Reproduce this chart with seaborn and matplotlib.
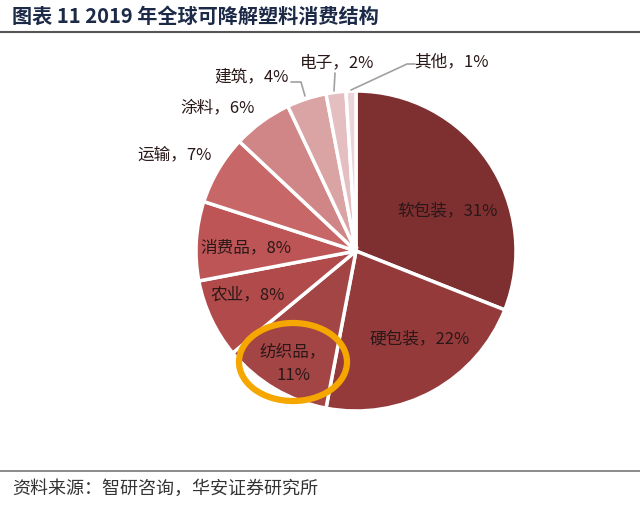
import matplotlib
matplotlib.use("Agg")
import matplotlib.pyplot as plt
import seaborn as sns
from matplotlib.patches import Ellipse
from matplotlib.lines import Line2D

sns.set_theme(style="white")
plt.rcParams['font.family'] = ['Noto Sans CJK SC', 'DejaVu Sans']

categories = ["软包装", "硬包装", "纺织品", "农业", "消费品", "运输", "涂料", "建筑", "电子", "其他"]
values = [31, 22, 11, 8, 8, 7, 6, 4, 2, 1]
colors = ["#7E2F30", "#943A3B", "#A34445", "#B14A4B", "#BD5556", "#C76767",
          "#D08687", "#DAA3A4", "#E4BEC0", "#ECD5D8"]
title = "图表 11 2019 年全球可降解塑料消费结构"
source = "资料来源：智研咨询，华安证券研究所"

W, H = 640, 505
fig = plt.figure(figsize=(W / 100, H / 100), dpi=100)
cx, cy, R = 356, 251, 160
ax = fig.add_axes([(cx - R) / W, (H - cy - R) / H, 2 * R / W, 2 * R / H])
wedges, _ = ax.pie(values, colors=colors, startangle=90, counterclock=False,
                   wedgeprops=dict(edgecolor="white", linewidth=2.5))
ax.set_xlim(-1, 1)
ax.set_ylim(-1, 1)
ax.axis("off")

labels = [f"{c}，{v}%" for c, v in zip(categories, values)]
labels[2] = f"{categories[2]}，\n{values[2]}%"

def d(px, py):
    return ((px - cx) / R, (cy - py) / R)

pos = [(448, 212), (420, 340), (293, 364), (248, 295), (246, 248),
       (175, 155), (218, 108), (252, 77), (337, 63), (452, 62)]
txtc = "#2A1717"
for lab, p in zip(labels, pos):
    x, y = d(*p)
    ax.text(x, y, lab, ha="center", va="center", fontsize=12, color=txtc,
            linespacing=1.5, clip_on=False)

# leader lines
lc = "#A0A0A0"
for pts in [[(291, 82), (301, 82), (305, 96)],
            [(335, 73), (334, 91)],
            [(415, 64), (407, 64), (351, 90)]]:
    xs, ys = zip(*[d(*p) for p in pts])
    ax.add_line(Line2D(xs, ys, color=lc, lw=1.2, clip_on=False))

# highlight ellipse
ex, ey = d(293, 362)
ax.add_patch(Ellipse((ex, ey), 108 / R, 78 / R, fill=False, edgecolor="#F5A700",
                     lw=4.5, clip_on=False))

fig.text(12 / W, 1 - 16 / H, title, ha="left", va="center", fontsize=14.5,
         fontweight="bold", color="#1C2A48")
fig.add_artist(Line2D([0, 1], [1 - 32 / H, 1 - 32 / H], color="#555555", lw=1.5))
fig.add_artist(Line2D([0, 1], [1 - 471 / H, 1 - 471 / H], color="#777777", lw=1.2))
fig.text(12 / W, 1 - 489 / H, source, ha="left", va="center", fontsize=13,
         color="#333333")

fig.savefig("out.png", dpi=100, facecolor="white")
